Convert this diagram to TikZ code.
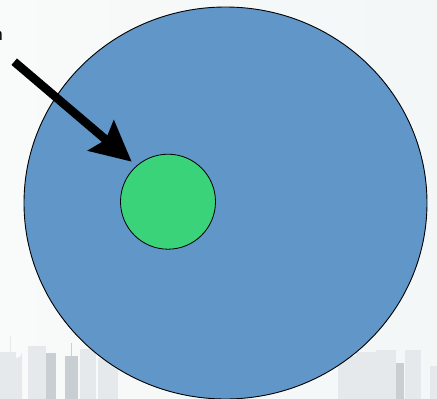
\documentclass[tikz,border=0pt]{standalone}
\usepackage{fontspec}
\setmainfont{Liberation Sans}
\usetikzlibrary{arrows.meta,shapes.geometric}
\definecolor{bg}{RGB}{249,250,250}
\definecolor{bgr}{RGB}{243,247,247}
\definecolor{bigblue}{RGB}{96,150,200}
\definecolor{smallgreen}{RGB}{59,211,122}
\definecolor{bldlight}{RGB}{229,233,235}
\definecolor{blddark}{RGB}{200,206,209}
\tikzset{
  bigcirc/.style={ellipse, draw=black, line width=0.9pt, fill=bigblue, minimum width=403pt, minimum height=392pt, inner sep=0pt},
  smallcirc/.style={circle, draw=black, line width=0.8pt, fill=smallgreen, minimum size=95pt, inner sep=0pt},
  bigarrow/.style={line width=8.5pt, -{Stealth[length=40pt,width=39pt,inset=6pt]}},
  lightb/.style={fill=bldlight, draw=none},
  darkb/.style={fill=blddark, draw=none}
}
\begin{document}
\begin{tikzpicture}[x=1pt,y=-1pt]
\useasboundingbox (0,0) rectangle (437,399);
\shade[left color=bg, right color=bgr] (0,0) rectangle (437,399);
% skyline left
\fill[lightb] (0,352) rectangle (16,399);
\fill[lightb] (10,360) -- (10,352) arc[start angle=180,end angle=0,radius=6] -- (22,399) -- (10,399) -- cycle;
\fill[lightb] (9.5,336) rectangle (10.5,352);
\fill[lightb] (28,346) rectangle (46,399);
\fill[darkb] (46,353) rectangle (56,399);
\fill[darkb] (65,356) rectangle (78,399);
\fill[darkb] (70.5,343) rectangle (72,356);
\fill[lightb] (80,349) rectangle (96,399);
\fill[lightb] (98,358) rectangle (118,399);
% skyline right
\fill[lightb] (338,356) rectangle (356,399);
\fill[lightb] (356,352) rectangle (376,399);
\fill[lightb] (376,350) rectangle (396,399);
\fill[darkb] (396,363) rectangle (404,399);
\fill[lightb] (405,350) rectangle (421,399);
\fill[lightb] (430,366) rectangle (437,399);
% main shapes
\node[bigcirc] (big) at (225.5,203) {};
\node[smallcirc] (small) at (168,201.7) {};
\coordinate (tail) at (14.2,61.7);
\coordinate (tip) at (131.7,161.7);
\draw[bigarrow] (tail) -- (tip);
\node[anchor=base east, inner sep=0pt, font=\fontsize{17}{20}\selectfont] (lbl) at (3,40) {n};
\end{tikzpicture}
\end{document}
